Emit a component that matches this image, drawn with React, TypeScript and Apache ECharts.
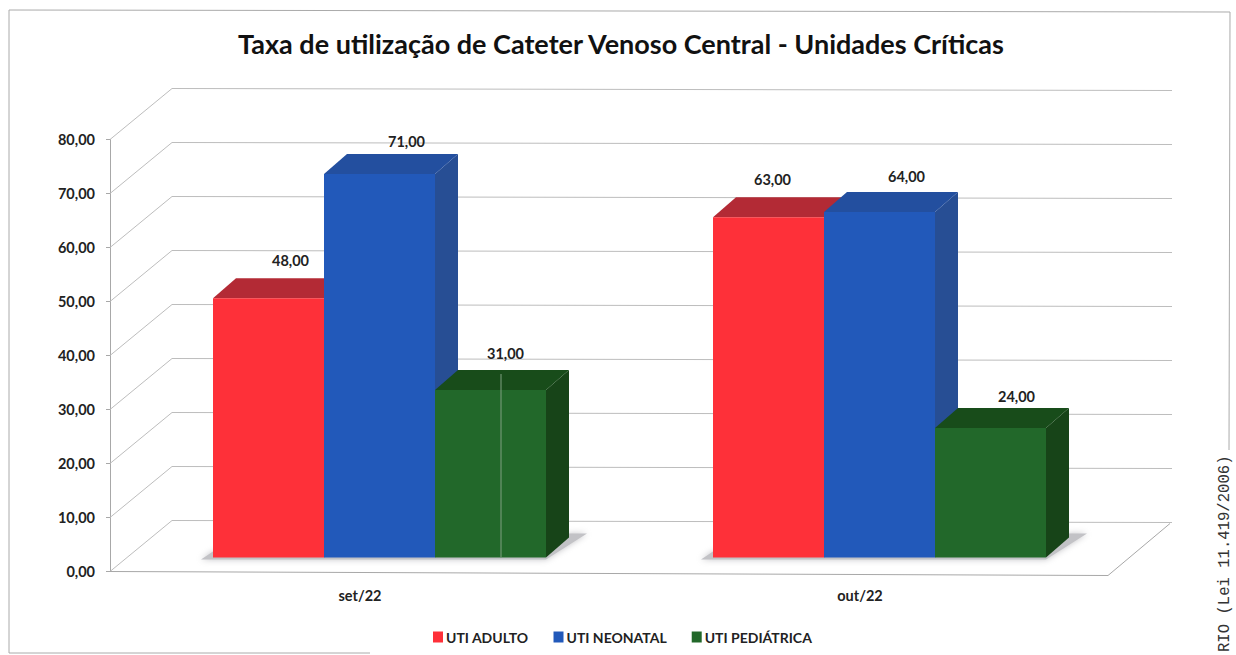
import React, { useEffect, useRef } from "react";
import * as echarts from "echarts";

const categories = ["set/22", "out/22"];
const seriesNames = ["UTI ADULTO", "UTI NEONATAL", "UTI PEDIÁTRICA"];
const utiAdulto = [48, 63];
const utiNeonatal = [71, 64];
const utiPediatrica = [31, 24];
const yTicks = [0, 10, 20, 30, 40, 50, 60, 70, 80];
const titleText = "Taxa de utilização de Cateter Venoso Central - Unidades Críticas";
const stampText = "RIO (Lei 11.419/2006)";

const fmt = (v: number) => v.toFixed(2).replace(".", ",");
const FONT = "Lato";

// face colours: front, top, side
const palette = [
  ["#FE3039", "#B32A35", "#A82830"],
  ["#2259BA", "#234F9F", "#274E94"],
  ["#22682A", "#184C1A", "#174418"],
];
// where each value label sits relative to its bar (series, category)
const labelShift = [
  [[22, -38], [4, -38]],
  [[27, -33], [27, -35]],
  [[15, -37], [26, -31]],
];
const barW = 111;
const groupLeft = [213, 713];
const baseLift = 14;
const depthX = 23;
const depthY = 20;
const wallX = 62;
const wallY = 51;

function wallRender(params: any, api: any) {
  const v = api.value(0);
  const yy = api.coord([0, v])[1];
  const left = params.coordSys.x;
  return {
    type: "polyline",
    silent: true,
    shape: {
      points: [
        [left, yy],
        [left + wallX, yy - wallY],
        [left + wallX + 1000, yy - wallY + 2],
      ],
    },
    style: { fill: "none", stroke: "#bdbdbd", lineWidth: 1 },
  };
}

function floorRender(params: any, api: any) {
  const cs = params.coordSys;
  const y0 = api.coord([0, 0])[1];
  return {
    type: "polyline",
    silent: true,
    shape: {
      points: [
        [cs.x, y0],
        [cs.x + 998, y0 + 4],
        [cs.x + 998 + wallX, y0 - wallY + 3],
      ],
    },
    style: { fill: "none", stroke: "#a8a8a8", lineWidth: 1 },
  };
}

function shadowRender(params: any, api: any) {
  const i = api.value(0);
  const y0 = api.coord([0, 0])[1] - baseLift;
  const l = groupLeft[i];
  const r = l + barW * 3;
  return {
    type: "polygon",
    silent: true,
    shape: {
      points: [
        [l - 12, y0 + 2],
        [r, y0 + 2],
        [r + depthX + 18, y0 - 24],
        [r + depthX, y0 - 24],
        [r, y0 - 6],
        [l, y0 - 6],
      ],
    },
    style: { fill: "#c2c2c6", shadowBlur: 6, shadowColor: "#c2c2c6" },
  };
}

function barRender(s: number) {
  return (params: any, api: any) => {
    const i = api.value(0);
    const v = api.value(1);
    const zero = api.coord([i, 0])[1];
    const top = api.coord([i, v])[1] - baseLift;
    const base = zero - baseLift;
    const l = groupLeft[i] + s * barW;
    const r = l + barW;
    const [front, topC, side] = palette[s];
    const [lx, ly] = labelShift[s][i];
    return {
      type: "group",
      children: [
        {
          type: "polygon",
          shape: { points: [[r, top], [r + depthX, top - depthY], [r + depthX, base - depthY], [r, base]] },
          style: { fill: side },
        },
        {
          type: "polygon",
          shape: { points: [[l, top], [l + depthX, top - depthY], [r + depthX, top - depthY], [r, top]] },
          style: { fill: topC },
        },
        { type: "rect", shape: { x: l, y: top, width: barW, height: base - top }, style: { fill: front } },
        {
          type: "text",
          style: {
            x: (l + r) / 2 + lx,
            y: top + ly,
            text: fmt(v),
            fill: "#222",
            font: `bold 14.5px ${FONT}`,
            textAlign: "center",
            textVerticalAlign: "middle",
          },
        },
      ],
    };
  };
}

const seriesData = [utiAdulto, utiNeonatal, utiPediatrica];

export default function App() {
  const ref = useRef<HTMLDivElement>(null);
  useEffect(() => {
    const chart = echarts.init(ref.current!, undefined, { renderer: "svg" });
    chart.setOption({
      animation: false,
      backgroundColor: "#fff",
      title: {
        text: titleText,
        left: 616,
        top: 25,
        textAlign: "center",
        textStyle: { fontFamily: FONT, fontWeight: "bold", fontSize: 27, color: "#111" },
      },
      legend: {
        data: seriesNames.map((name, i) => ({ name, itemStyle: { color: palette[i][0] } })),
        left: 428,
        top: 625,
        icon: "rect",
        itemWidth: 10,
        itemHeight: 11,
        itemGap: 25,
        textStyle: { fontFamily: FONT, fontWeight: "bold", fontSize: 14, color: "#222", padding: [0, 0, 0, -2] },
      },
      grid: { left: 110, top: 139.5, width: 1000, height: 432 },
      xAxis: {
        type: "category",
        data: categories,
        axisLine: { show: false },
        axisTick: { show: false },
        axisLabel: { fontFamily: FONT, fontWeight: "bold", fontSize: 14.5, color: "#222", margin: 16 },
      },
      yAxis: {
        type: "value",
        min: 0,
        max: 80,
        interval: 10,
        axisLine: { show: true, lineStyle: { color: "#a8a8a8" } },
        axisTick: { show: true, length: 4, lineStyle: { color: "#a8a8a8" } },
        splitLine: { show: false },
        axisLabel: { fontFamily: FONT, fontWeight: "bold", fontSize: 14.5, color: "#222", margin: 15, formatter: (v: number) => fmt(v) },
      },
      series: [
        { type: "custom", name: "wall", data: yTicks.map((v) => [v]), encode: { y: 0 }, renderItem: wallRender, z: 1, silent: true },
        { type: "custom", name: "floor", data: [[0]], renderItem: floorRender, z: 1, silent: true },
        { type: "custom", name: "shadow", data: categories.map((_, i) => [i]), renderItem: shadowRender, z: 2, silent: true },
        ...seriesNames.map((name, s) => ({
          type: "custom",
          name,
          data: categories.map((_, i) => [i, seriesData[s][i]]),
          encode: { x: 0, y: 1 },
          renderItem: barRender(s),
          z: 3 + s,
          itemStyle: { color: palette[s][0] },
        })),
      ],
      graphic: [
        { type: "line", shape: { x1: 9, y1: 10, x2: 9, y2: 653 }, style: { stroke: "#aaa", lineWidth: 1 }, z: 0 },
        { type: "line", shape: { x1: 9, y1: 10, x2: 1230, y2: 12 }, style: { stroke: "#aaa", lineWidth: 1 }, z: 0 },
        { type: "line", shape: { x1: 1230, y1: 12, x2: 1229, y2: 450 }, style: { stroke: "#aaa", lineWidth: 1 }, z: 0 },
        { type: "line", shape: { x1: 9, y1: 653, x2: 370, y2: 653 }, style: { stroke: "#aaa", lineWidth: 1 }, z: 0 },
        { type: "line", shape: { x1: 501, y1: 374, x2: 501, y2: 557 }, style: { stroke: "#7f9f80", lineWidth: 1 }, z: 100 },
        {
          type: "text",
          x: 1225,
          y: 652,
          rotation: Math.PI / 2,
          style: {
            text: stampText,
            font: "15.6px 'Liberation Mono'",
            fill: "#333",
            textAlign: "left",
            textVerticalAlign: "middle",
          },
          z: 100,
        },
      ],
    });
    return () => chart.dispose();
  }, []);
  return <div ref={ref} style={{ position: "absolute", left: 0, top: 0, width: 1236, height: 655 }} />;
}
